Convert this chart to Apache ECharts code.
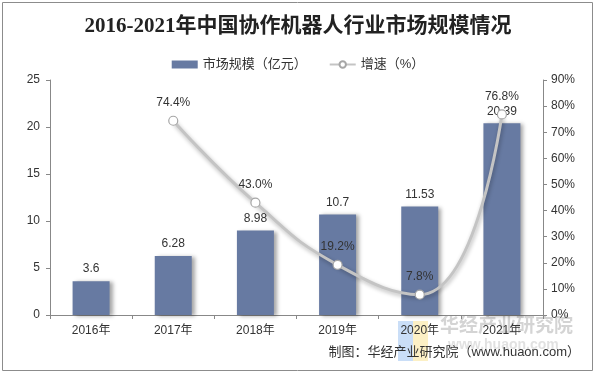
<!DOCTYPE html>
<html><head><meta charset="utf-8">
<script src="https://cdn.jsdelivr.net/npm/echarts@6/dist/echarts.min.js"></script>
<style>html,body{margin:0;padding:0;background:#fff;}#c{width:596px;height:374px;}</style>
</head><body><div id="c"></div>
<script>
const categories = ['2016年','2017年','2018年','2019年','2020年','2021年'];
const marketSize = [3.6, 6.28, 8.98, 10.7, 11.53, 20.39];
const growthRate = [null, 74.4, 43.0, 19.2, 7.8, 76.8];
const leftTicks = [0, 5, 10, 15, 20, 25];
const rightTicks = [0, 10, 20, 30, 40, 50, 60, 70, 80, 90];

const chart = echarts.init(document.getElementById('c'));
const font = 'Arial, "Liberation Sans", "Noto Sans CJK SC", sans-serif';
chart.setOption({
  animation: false,
  textStyle: { fontFamily: font },
  title: {
    text: '2016-2021年中国协作机器人行业市场规模情况',
    left: 'center', top: 11,
    textStyle: { fontFamily: '"Liberation Serif", "Noto Sans CJK SC", serif', fontSize: 21, fontWeight: 'bold', color: '#222' }
  },
  legend: {
    top: 53, left: 'center', itemGap: 22, itemWidth: 26, itemHeight: 8,
    textStyle: { fontSize: 13, color: '#333', fontFamily: font },
    data: [
      { name: '市场规模（亿元）', icon: 'rect' },
      { name: '增速（%）' }
    ]
  },
  grid: { left: 50, right: 53, top: 80, bottom: 59 },
  xAxis: {
    type: 'category', data: categories,
    axisLine: { lineStyle: { color: '#888' } },
    axisTick: { show: true, lineStyle: { color: '#888' }, length: 4 },
    axisLabel: { color: '#333', fontSize: 12, margin: 10 }
  },
  yAxis: [
    {
      type: 'value', min: leftTicks[0], max: leftTicks[leftTicks.length-1], interval: 5,
      splitLine: { show: false },
      axisLine: { show: true, lineStyle: { color: '#888' } },
      axisTick: { show: true, lineStyle: { color: '#888' }, length: 4 },
      axisLabel: { color: '#333', fontSize: 12, margin: 10 }
    },
    {
      type: 'value', min: rightTicks[0], max: rightTicks[rightTicks.length-1], interval: 10,
      splitLine: { show: false },
      axisLine: { show: true, lineStyle: { color: '#888' } },
      axisTick: { show: true, lineStyle: { color: '#888' }, length: 4 },
      axisLabel: { color: '#333', fontSize: 12, margin: 8, formatter: '{value}%' }
    }
  ],
  series: [
    {
      name: '市场规模（亿元）', type: 'bar', barWidth: 37,
      itemStyle: { color: '#677aa2', shadowColor: 'rgba(0,0,0,0.35)', shadowBlur: 4, shadowOffsetX: 3, shadowOffsetY: 1 },
      label: { show: true, position: 'top', distance: 6, color: '#333', fontSize: 12 },
      data: marketSize
    },
    {
      name: '增速（%）', type: 'line', yAxisIndex: 1, smooth: 0.5,
      symbol: 'circle', symbolSize: 9,
      lineStyle: { color: '#c4c4c4', width: 3, shadowColor: 'rgba(0,0,0,0.3)', shadowBlur: 4, shadowOffsetX: 1, shadowOffsetY: 2 },
      itemStyle: { color: '#fff', borderColor: '#a6a6a6', borderWidth: 1.2 },
      label: { show: true, position: 'top', distance: 7, color: '#333', fontSize: 12, formatter: p => p.value.toFixed(1) + '%' },
      data: growthRate,
      z: 5
    }
  ],
  graphic: [
    { type: 'rect', shape: { x: 2.5, y: 2.5, width: 590, height: 368 }, style: { fill: 'none', stroke: '#8c8c8c', lineWidth: 1 }, z: -10 },
    { type: 'rect', shape: { x: 398, y: 321, width: 15, height: 40 }, style: { fill: 'rgba(150,190,240,0.5)' }, z: -5 },
    { type: 'rect', shape: { x: 413, y: 321, width: 15, height: 40 }, style: { fill: 'rgba(250,225,140,0.5)' }, z: -5 },
    { type: 'text', left: 440, top: 315, style: { text: '华经产业研究院', fontSize: 19, fontWeight: 'bold', fill: 'rgba(160,160,160,0.45)', fontFamily: '"Noto Sans CJK SC", sans-serif' }, z: -5 },
    { type: 'text', left: 448, top: 338, style: { text: 'www.huaon.com', fontSize: 14, fontWeight: 'bold', fill: 'rgba(170,170,170,0.35)', fontFamily: font }, z: -5 },
    { type: 'text', right: 16, top: 346, style: { text: '制图：华经产业研究院（www.huaon.com）', fontSize: 13, fill: '#333', fontFamily: font } }
  ]
});
</script></body></html>
